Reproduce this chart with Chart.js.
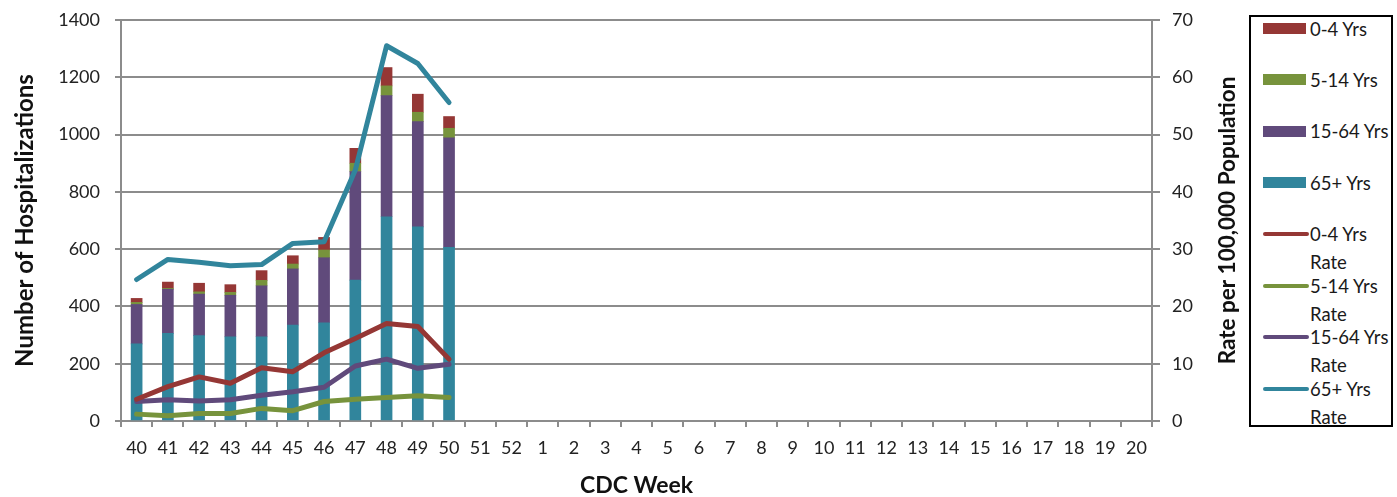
<!DOCTYPE html>
<html>
<head>
<meta charset="utf-8">
<script src="https://cdn.jsdelivr.net/npm/chart.js@4/dist/chart.umd.min.js"></script>
<style>
  html, body { margin: 0; padding: 0; background: #fff; }
  body { width: 1397px; height: 497px; position: relative; overflow: hidden; font-family: Lato, "Open Sans", sans-serif; }
  #chart { position: absolute; left: 0; top: 0; }
  #legend {
    position: absolute; left: 1249px; top: 15px; width: 144px; height: 412px;
    border: 2px solid #000; box-sizing: border-box; background: #fff;
  }
  .item { position: absolute; left: 0; width: 140px; height: 56px; }
  .sw { position: absolute; left: 12px; }
  .sw.bar { width: 43px; height: 11px; top: 8.5px; }
  .sw.line { width: 46px; height: 4px; top: 12px; border-radius: 2px; }
  .txt { position: absolute; left: 59px; top: 0; width: 84px; font-size: 18.5px; line-height: 28px; color: #1a1a1a; }
</style>
</head>
<body>
<canvas id="chart" width="1245" height="497"></canvas>
<div id="legend"></div>
<script>
// CDC surveillance weeks, season 40 through week 20
const weeks = ['40','41','42','43','44','45','46','47','48','49','50','51','52',
  '1','2','3','4','5','6','7','8','9','10','11','12','13','14','15','16','17','18','19','20'];

// Weekly hospitalizations by age group (reported weeks 40-50)
const hosp0to4   = [14, 22, 30, 27, 34, 29, 44, 52, 64, 63, 41];
const hosp5to14  = [7, 3, 8, 10, 19, 17, 27, 29, 34, 33, 33];
const hosp15to64 = [138, 154, 145, 145, 178, 196, 227, 379, 423, 367, 383];
const hosp65plus = [269, 306, 298, 294, 294, 335, 343, 492, 713, 678, 606];

// Hospitalization rate per 100,000 population by age group
const rate0to4   = [3.8, 6.0, 7.7, 6.6, 9.3, 8.6, 11.9, 14.4, 17.0, 16.5, 10.8];
const rate5to14  = [1.2, 0.9, 1.3, 1.3, 2.2, 1.8, 3.4, 3.8, 4.1, 4.4, 4.1];
const rate15to64 = [3.4, 3.7, 3.5, 3.7, 4.5, 5.1, 5.9, 9.6, 10.8, 9.2, 9.9];
const rate65plus = [24.7, 28.2, 27.7, 27.1, 27.3, 31.0, 31.3, 43.8, 65.5, 62.4, 55.6];

const COLORS = { a0: '#953735', a5: '#77933C', a15: '#604A7B', a65: '#31859C' };
const GRID = '#8c8c8c';
const FONT = 'Lato, "Open Sans", sans-serif';
const RIGHT_TITLE = 'Rate per 100,000 Population';

function pad(values) {
  return weeks.map((_, i) => (i < values.length ? values[i] : null));
}

function barSet(label, values, color) {
  return { type: 'bar', label, data: pad(values), backgroundColor: color, borderWidth: 0,
    yAxisID: 'y', stack: 'hosp', order: 1, barThickness: 11 };
}
function lineSet(label, values, color) {
  return { type: 'line', label, data: pad(values), borderColor: color, backgroundColor: color,
    borderWidth: 5, pointRadius: 0, tension: 0, yAxisID: 'y1', order: 0,
    borderCapStyle: 'round', borderJoinStyle: 'round', spanGaps: false };
}

// stacking runs bottom-up: 65+ first, 0-4 on top
const datasets = [
  barSet('65+ Yrs', hosp65plus, COLORS.a65),
  barSet('15-64 Yrs', hosp15to64, COLORS.a15),
  barSet('5-14 Yrs', hosp5to14, COLORS.a5),
  barSet('0-4 Yrs', hosp0to4, COLORS.a0),
  lineSet('0-4 Yrs Rate', rate0to4, COLORS.a0),
  lineSet('5-14 Yrs Rate', rate5to14, COLORS.a5),
  lineSet('15-64 Yrs Rate', rate15to64, COLORS.a15),
  lineSet('65+ Yrs Rate', rate65plus, COLORS.a65)
];

// Right-axis title reads bottom-to-top, next to the rate ticks
const rightTitle = {
  id: 'rightTitle',
  afterDraw(c) {
    const s = c.scales.y1;
    const ctx = c.ctx;
    ctx.save();
    ctx.translate(1228, (s.top + s.bottom) / 2);
    ctx.rotate(-Math.PI / 2);
    ctx.font = 'bold 22.5px ' + FONT;
    ctx.fillStyle = '#111';
    ctx.textAlign = 'center';
    ctx.textBaseline = 'middle';
    ctx.fillText(RIGHT_TITLE, 0, 0);
    ctx.restore();
  }
};

// keep the vertical axes from reserving extra room above the top tick
function trimVerticalPadding(s) {
  s.paddingTop = 10;
  s.paddingBottom = 10;
}

const chart = new Chart(document.getElementById('chart'), {
  data: { labels: weeks, datasets },
  plugins: [rightTitle],
  options: {
    responsive: false,
    animation: false,
    layout: { padding: { top: 20, left: 0, right: 0, bottom: 0 } },
    plugins: { legend: { display: false }, tooltip: { enabled: false } },
    scales: {
      x: {
        type: 'category', stacked: true, offset: true,
        grid: { offset: true, drawOnChartArea: false, color: GRID, lineWidth: 2, tickLength: 6 },
        border: { color: GRID, width: 2 },
        ticks: { autoSkip: false, maxRotation: 0, color: '#222', padding: 10, font: { family: FONT, size: 18 } },
        title: { display: true, text: 'CDC Week', color: '#111', padding: { top: 0, bottom: 0 },
          font: { family: FONT, size: 23, weight: 'bold', lineHeight: 1 } },
        afterFit: s => { s.height = 76; }
      },
      y: {
        type: 'linear', position: 'left', stacked: true, min: 0, max: 1400,
        grid: { color: GRID, lineWidth: 2, tickLength: 6 },
        border: { color: GRID, width: 2 },
        ticks: { stepSize: 200, color: '#222', padding: 15, font: { family: FONT, size: 18 },
          callback: v => String(v) },
        title: { display: true, text: 'Number of Hospitalizations', color: '#111', padding: { top: 11, bottom: 0 },
          font: { family: FONT, size: 24, weight: 'bold', lineHeight: 1.2 } },
        afterFit: s => { s.width = 121; trimVerticalPadding(s); }
      },
      y1: {
        type: 'linear', position: 'right', min: 0, max: 70,
        grid: { drawOnChartArea: false, color: GRID, lineWidth: 2, tickLength: 8 },
        border: { color: GRID, width: 2 },
        ticks: { stepSize: 10, color: '#222', padding: 12, font: { family: FONT, size: 18 },
          callback: v => String(v) },
        title: { display: false },
        afterFit: s => { s.width = 93; trimVerticalPadding(s); }
      }
    }
  }
});

// Legend: bars listed top-down 0-4 first, then the rate lines
const legendOrder = ['0-4 Yrs', '5-14 Yrs', '15-64 Yrs', '65+ Yrs',
  '0-4 Yrs Rate', '5-14 Yrs Rate', '15-64 Yrs Rate', '65+ Yrs Rate'];
const legend = document.getElementById('legend');
legendOrder.forEach((name, i) => {
  const ds = chart.data.datasets.find(d => d.label === name);
  const item = document.createElement('div');
  item.className = 'item';
  item.style.top = (28.5 + i * 51.43 - 17 - 14) + 'px';
  const sw = document.createElement('div');
  sw.className = 'sw ' + (ds.type === 'bar' ? 'bar' : 'line');
  sw.style.background = ds.type === 'bar' ? ds.backgroundColor : ds.borderColor;
  const tx = document.createElement('div');
  tx.className = 'txt';
  tx.textContent = ds.label;
  item.appendChild(sw);
  item.appendChild(tx);
  legend.appendChild(item);
});
</script>
</body>
</html>
